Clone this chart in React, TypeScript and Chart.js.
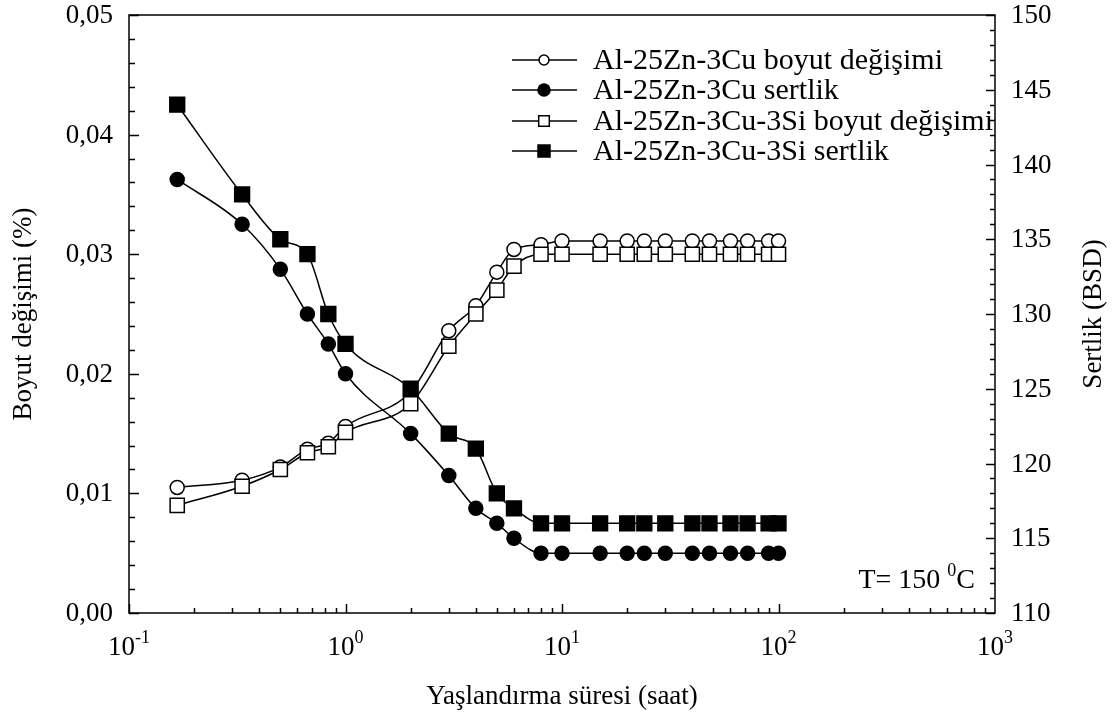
import React, { useEffect, useRef } from 'react';
import { Chart, registerables } from 'chart.js';

Chart.register(...registerables);

// Aging time (hours)
const times = [0.167, 0.333, 0.5, 0.667, 0.833, 1, 2, 3, 4, 5, 6, 8, 10, 15, 20, 24, 30, 40, 48, 60, 72, 90, 100];

// Dimensional change (%) — left axis
const cuBoyut = [0.0105, 0.0111, 0.0122, 0.0137, 0.0142, 0.0156, 0.0185, 0.0236, 0.0257, 0.0285, 0.0304, 0.0308,
  0.0311, 0.0311, 0.0311, 0.0311, 0.0311, 0.0311, 0.0311, 0.0311, 0.0311, 0.0311, 0.0311];
const siBoyut = [0.009, 0.0106, 0.012, 0.0134, 0.0139, 0.0151, 0.0175, 0.0223, 0.025, 0.027, 0.029, 0.030,
  0.030, 0.030, 0.030, 0.030, 0.030, 0.030, 0.030, 0.030, 0.030, 0.030, 0.030];

// Hardness (BSD) — right axis
const cuSertlik = [139, 136, 133, 130, 128, 126, 122, 119.2, 117, 116, 115, 114,
  114, 114, 114, 114, 114, 114, 114, 114, 114, 114, 114];
const siSertlik = [144, 138, 135, 134, 130, 128, 125, 122, 121, 118, 117, 116,
  116, 116, 116, 116, 116, 116, 116, 116, 116, 116, 116];

const seriesLabels = [
  'Al-25Zn-3Cu boyut değişimi',
  'Al-25Zn-3Cu sertlik',
  'Al-25Zn-3Cu-3Si boyut değişimi',
  'Al-25Zn-3Cu-3Si sertlik',
];

const xMajorExponents = ['-1', '0', '1', '2', '3'];
const leftTicks = [0, 0.01, 0.02, 0.03, 0.04, 0.05];
const leftTickLabels = ['0,00', '0,01', '0,02', '0,03', '0,04', '0,05'];
const rightTicks = [110, 115, 120, 125, 130, 135, 140, 145, 150];

const xTitle = 'Yaşlandırma süresi (saat)';
const yTitle = 'Boyut değişimi (%)';
const y1Title = 'Sertlik (BSD)';

const FONT = "'Liberation Serif', 'Times New Roman', serif";

const pts = (ys: number[]) => times.map((t, i) => ({ x: t, y: ys[i] }));

const markerStyles = [
  { pointStyle: 'circle', radius: 7, fill: '#fff' },
  { pointStyle: 'circle', radius: 7, fill: '#000' },
  { pointStyle: 'rect', radius: 10, fill: '#fff' },
  { pointStyle: 'rect', radius: 10.5, fill: '#000' },
];

const axesPlugin = {
  id: 'customAxes',
  afterDraw(chart: any) {
    const { ctx, chartArea: a, scales } = chart;
    const xs = scales.x, ys = scales.y, ys1 = scales.y1;
    ctx.save();
    ctx.strokeStyle = '#000';
    ctx.fillStyle = '#000';
    ctx.lineWidth = 1.5;
    ctx.strokeRect(a.left, a.top, a.right - a.left, a.bottom - a.top);

    // x ticks (inward, bottom only)
    ctx.beginPath();
    for (let d = -1; d <= 2; d++) {
      for (let k = 1; k <= 9; k++) {
        const v = k * Math.pow(10, d);
        const px = Math.round(xs.getPixelForValue(v)) + 0.5;
        const len = k === 1 ? 9 : 5;
        ctx.moveTo(px, a.bottom);
        ctx.lineTo(px, a.bottom - len);
      }
    }
    // left ticks
    for (let i = 0; i <= 25; i++) {
      const v = i * 0.002;
      const py = Math.round(ys.getPixelForValue(v)) + 0.5;
      const len = i % 5 === 0 ? 10 : 6;
      ctx.moveTo(a.left, py);
      ctx.lineTo(a.left + len, py);
    }
    // right ticks
    for (let v = 110; v <= 150; v++) {
      const py = Math.round(ys1.getPixelForValue(v)) + 0.5;
      const len = v % 5 === 0 ? 9 : 5;
      ctx.moveTo(a.right, py);
      ctx.lineTo(a.right - len, py);
    }
    ctx.stroke();

    // left tick labels
    ctx.font = `27px ${FONT}`;
    ctx.textBaseline = 'middle';
    ctx.textAlign = 'right';
    leftTicks.forEach((v, i) => {
      ctx.fillText(leftTickLabels[i], a.left - 16, ys.getPixelForValue(v) + 1);
    });
    // right tick labels
    ctx.textAlign = 'left';
    rightTicks.forEach((v) => {
      ctx.fillText(String(v), a.right + 16, ys1.getPixelForValue(v) + 1);
    });

    // x tick labels with superscripts
    ctx.textBaseline = 'alphabetic';
    ctx.textAlign = 'left';
    xMajorExponents.forEach((e, i) => {
      const px = xs.getPixelForValue(Math.pow(10, i - 1));
      ctx.font = `27px ${FONT}`;
      const wBase = ctx.measureText('10').width;
      ctx.font = `18px ${FONT}`;
      const wExp = ctx.measureText(e).width;
      const start = px - (wBase + wExp) / 2;
      ctx.font = `27px ${FONT}`;
      ctx.fillText('10', start, a.bottom + 42);
      ctx.font = `18px ${FONT}`;
      ctx.fillText(e, start + wBase, a.bottom + 30);
    });

    // axis titles
    ctx.font = `27px ${FONT}`;
    ctx.textAlign = 'center';
    ctx.textBaseline = 'middle';
    ctx.fillText(xTitle, (a.left + a.right) / 2, a.bottom + 84);
    const midY = (a.top + a.bottom) / 2;
    ctx.save();
    ctx.translate(24, midY);
    ctx.rotate(-Math.PI / 2);
    ctx.fillText(yTitle, 0, 0);
    ctx.restore();
    ctx.save();
    ctx.translate(1094, midY);
    ctx.rotate(-Math.PI / 2);
    ctx.fillText(y1Title, 0, 0);
    ctx.restore();

    // temperature annotation
    ctx.textBaseline = 'alphabetic';
    ctx.textAlign = 'left';
    ctx.font = `28px ${FONT}`;
    const t1 = 'T= 150 ';
    const t2 = '0';
    const t3 = 'C';
    const w1 = ctx.measureText(t1).width;
    const w3 = ctx.measureText(t3).width;
    ctx.font = `18px ${FONT}`;
    const w2 = ctx.measureText(t2).width;
    const endX = a.right - 20;
    const sx = endX - (w1 + w2 + w3);
    const base = a.bottom - 25;
    ctx.font = `28px ${FONT}`;
    ctx.fillText(t1, sx, base);
    ctx.font = `18px ${FONT}`;
    ctx.fillText(t2, sx + w1, base - 12);
    ctx.font = `28px ${FONT}`;
    ctx.fillText(t3, sx + w1 + w2, base);

    // legend
    const rows = [60, 90, 121, 151];
    const legMarkers = [
      { style: 'circle', r: 5, fill: '#fff' },
      { style: 'circle', r: 6, fill: '#000' },
      { style: 'rect', r: 7.5, fill: '#fff' },
      { style: 'rect', r: 8.5, fill: '#000' },
    ];
    ctx.font = `30px ${FONT}`;
    ctx.textBaseline = 'middle';
    rows.forEach((ry, i) => {
      ctx.beginPath();
      ctx.lineWidth = 1.5;
      ctx.moveTo(512, ry);
      ctx.lineTo(577, ry);
      ctx.stroke();
      const m = legMarkers[i];
      ctx.beginPath();
      if (m.style === 'circle') {
        ctx.arc(544, ry, m.r, 0, Math.PI * 2);
      } else {
        const s = m.r * Math.SQRT1_2;
        ctx.rect(544 - s, ry - s, 2 * s, 2 * s);
      }
      ctx.fillStyle = m.fill;
      ctx.fill();
      ctx.stroke();
      ctx.fillStyle = '#000';
      ctx.fillText(seriesLabels[i], 593, ry + 1);
    });

    ctx.restore();
  },
};

export default function App() {
  const ref = useRef<HTMLCanvasElement | null>(null);

  useEffect(() => {
    if (!ref.current) return;
    const data = [cuBoyut, cuSertlik, siBoyut, siSertlik];
    const axes = ['y', 'y1', 'y', 'y1'];
    const orders = [4, 3, 2, 1];
    const chart = new Chart(ref.current, {
      type: 'line',
      data: {
        datasets: data.map((d, i) => ({
          label: seriesLabels[i],
          data: pts(d),
          yAxisID: axes[i],
          order: orders[i],
          borderColor: '#000',
          borderWidth: 1.5,
          pointStyle: markerStyles[i].pointStyle as any,
          pointRadius: markerStyles[i].radius,
          pointBackgroundColor: markerStyles[i].fill,
          pointBorderColor: '#000',
          pointBorderWidth: 1.5,
          cubicInterpolationMode: 'monotone' as const,
          fill: false,
        })),
      },
      options: {
        responsive: false,
        animation: false,
        devicePixelRatio: 1,
        layout: { padding: { left: 129, top: 15, right: 117, bottom: 106 } },
        plugins: { legend: { display: false }, tooltip: { enabled: false } },
        scales: {
          x: { type: 'logarithmic', min: 0.1, max: 1000, display: false },
          y: { type: 'linear', position: 'left', min: 0, max: 0.05, display: false },
          y1: { type: 'linear', position: 'right', min: 110, max: 150, display: false },
        },
      },
      plugins: [axesPlugin],
    });
    return () => chart.destroy();
  }, []);

  return (
    <div style={{ position: 'absolute', left: 0, top: 0, width: 1112, height: 719, background: '#fff' }}>
      <canvas ref={ref} width={1112} height={719} />
    </div>
  );
}
